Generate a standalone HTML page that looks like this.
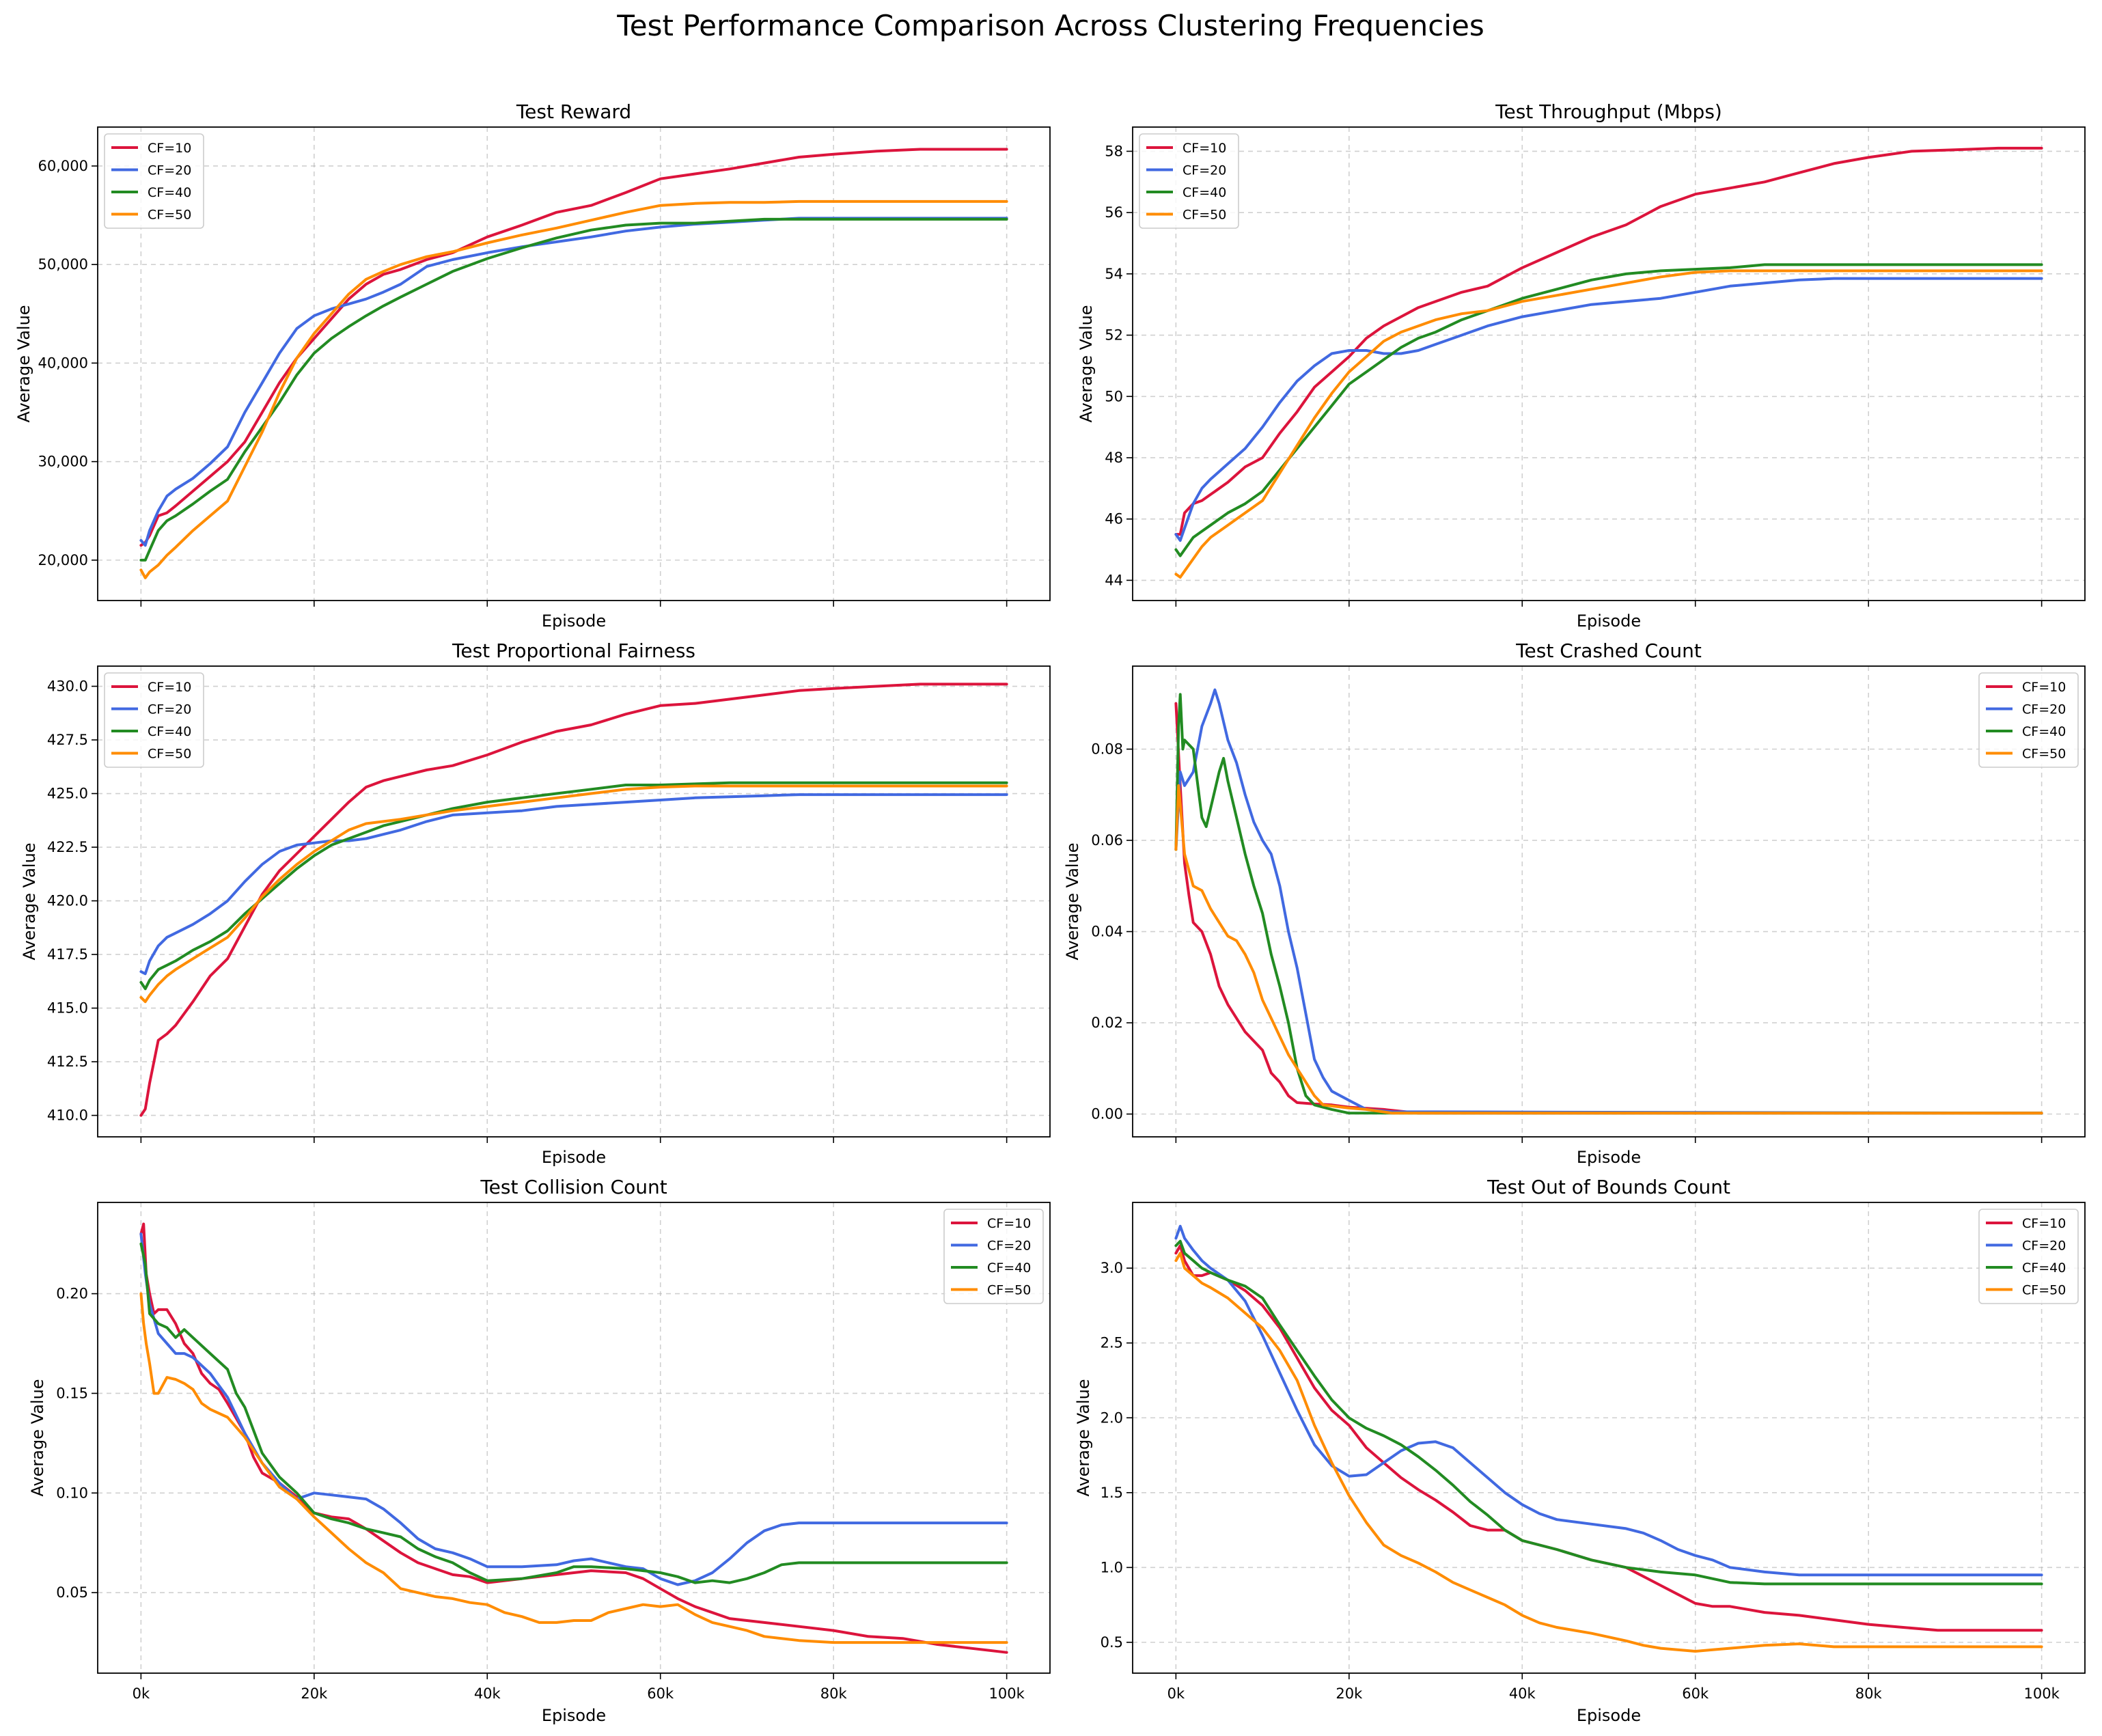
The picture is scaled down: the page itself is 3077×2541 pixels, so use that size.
<!DOCTYPE html>
<html><head><meta charset="utf-8"><style>
html,body{margin:0;padding:0;background:#fff}
svg{display:block;font-family:"DejaVu Sans","Liberation Sans",sans-serif}
</style></head><body>
<svg id="fig" width="3077" height="2541" viewBox="0 0 3077 2541" xmlns="http://www.w3.org/2000/svg">
<rect width="3077" height="2541" fill="#fff"/>
<text x="1538" y="52" font-size="42" text-anchor="middle" fill="#000">Test Performance Comparison Across Clustering Frequencies</text>
</svg>
<script>
// ---- data ----
const seriesNames = ["CF=10","CF=20","CF=40","CF=50"];
const xTickVals = [0,20,40,60,80,100];
const xTickLabels = ["0k","20k","40k","60k","80k","100k"];
const X3 = [0,0.5,1,2,3,4,6,8,10,12,14,16,18,20,22,24,26,28,30,33,36,40,44,48,52,56,60,64,68,72,76,80,85,90,95,100];

const rew10 = [21.5,21.8,22.5,24.5,24.8,25.5,27,28.5,30,32,35,38,40.5,42.5,44.5,46.5,48,49,49.5,50.5,51.2,52.8,54,55.3,56,57.3,58.7,59.2,59.7,60.3,60.9,61.2,61.5,61.7,61.7,61.7];
const rew20 = [22,21.5,23,25,26.5,27.2,28.3,29.8,31.5,35,38,41,43.5,44.8,45.5,46,46.5,47.2,48,49.8,50.5,51.2,51.8,52.3,52.8,53.4,53.8,54.1,54.3,54.5,54.7,54.7,54.7,54.7,54.7,54.7];
const rew40 = [20,20,21,23,24,24.5,25.7,27,28.2,31,33.5,36,38.8,41,42.5,43.7,44.8,45.8,46.7,48,49.3,50.6,51.7,52.7,53.5,54,54.2,54.2,54.4,54.6,54.6,54.6,54.6,54.6,54.6,54.6];
const rew50 = [19,18.2,18.8,19.5,20.5,21.3,23,24.5,26,29.5,33,37,40.5,43,45,47,48.5,49.3,50,50.8,51.3,52.2,53,53.7,54.5,55.3,56,56.2,56.3,56.3,56.4,56.4,56.4,56.4,56.4,56.4];
const rewTicks = [20,30,40,50,60];
const rewTickLabels = ["20,000","30,000","40,000","50,000","60,000"];

const thr10 = [45.5,45.5,46.2,46.5,46.6,46.8,47.2,47.7,48,48.8,49.5,50.3,50.8,51.3,51.9,52.3,52.6,52.9,53.1,53.4,53.6,54.2,54.7,55.2,55.6,56.2,56.6,56.8,57,57.3,57.6,57.8,58,58.05,58.1,58.1];
const thr20 = [45.5,45.3,45.7,46.5,47,47.3,47.8,48.3,49,49.8,50.5,51,51.4,51.5,51.5,51.4,51.4,51.5,51.7,52,52.3,52.6,52.8,53,53.1,53.2,53.4,53.6,53.7,53.8,53.85,53.85,53.85,53.85,53.85,53.85];
const thr40 = [45,44.8,45,45.4,45.6,45.8,46.2,46.5,46.9,47.6,48.3,49,49.7,50.4,50.8,51.2,51.6,51.9,52.1,52.5,52.8,53.2,53.5,53.8,54,54.1,54.15,54.2,54.3,54.3,54.3,54.3,54.3,54.3,54.3,54.3];
const thr50 = [44.2,44.1,44.3,44.7,45.1,45.4,45.8,46.2,46.6,47.5,48.4,49.3,50.1,50.8,51.3,51.8,52.1,52.3,52.5,52.7,52.8,53.1,53.3,53.5,53.7,53.9,54.05,54.1,54.1,54.1,54.1,54.1,54.1,54.1,54.1,54.1];
const thrTicks = [44,46,48,50,52,54,56,58];
const thrTickLabels = ["44","46","48","50","52","54","56","58"];

const fair10 = [410,410.3,411.5,413.5,413.8,414.2,415.3,416.5,417.3,418.8,420.3,421.4,422.2,423,423.8,424.6,425.3,425.6,425.8,426.1,426.3,426.8,427.4,427.9,428.2,428.7,429.1,429.2,429.4,429.6,429.8,429.9,430,430.1,430.1,430.1];
const fair20 = [416.7,416.6,417.2,417.9,418.3,418.5,418.9,419.4,420,420.9,421.7,422.3,422.6,422.7,422.8,422.8,422.9,423.1,423.3,423.7,424,424.1,424.2,424.4,424.5,424.6,424.7,424.8,424.85,424.9,424.95,424.95,424.95,424.95,424.95,424.95];
const fair40 = [416.2,415.9,416.3,416.8,417,417.2,417.7,418.1,418.6,419.4,420.1,420.8,421.5,422.1,422.6,422.9,423.2,423.5,423.7,424,424.3,424.6,424.8,425,425.2,425.4,425.4,425.45,425.5,425.5,425.5,425.5,425.5,425.5,425.5,425.5];
const fair50 = [415.5,415.3,415.6,416.1,416.5,416.8,417.3,417.8,418.3,419.2,420.2,421,421.7,422.3,422.8,423.3,423.6,423.7,423.8,424,424.2,424.4,424.6,424.8,425,425.2,425.3,425.35,425.35,425.35,425.35,425.35,425.35,425.35,425.35,425.35];
const fairTicks = [410,412.5,415,417.5,420,422.5,425,427.5,430];
const fairTickLabels = ["410.0","412.5","415.0","417.5","420.0","422.5","425.0","427.5","430.0"];

const cr10x = [0,0.5,1,1.5,2,3,4,5,6,7,8,9,10,11,12,13,14,16,18,20,24,28,100];
const cr10y = [0.09,0.072,0.055,0.048,0.042,0.04,0.035,0.028,0.024,0.021,0.018,0.016,0.014,0.009,0.007,0.004,0.0025,0.0022,0.002,0.0015,0.001,0.0002,0.0002];
const cr20x = [0,0.5,1,2,3,4,4.5,5,6,7,8,9,10,11,12,13,14,15,16,17,18,20,22,25,100];
const cr20y = [0.058,0.075,0.072,0.075,0.085,0.09,0.093,0.09,0.082,0.077,0.07,0.064,0.06,0.057,0.05,0.04,0.032,0.022,0.012,0.008,0.005,0.003,0.001,0.0005,0.0002];
const cr40x = [0,0.3,0.5,0.8,1,2,3,3.5,4,5,5.5,6,7,8,9,10,11,12,13,14,15,16,18,20,100];
const cr40y = [0.058,0.085,0.092,0.08,0.082,0.08,0.065,0.063,0.067,0.075,0.078,0.073,0.065,0.057,0.05,0.044,0.035,0.028,0.02,0.01,0.004,0.002,0.001,0.0002,0.0002];
const cr50x = [0,0.3,0.5,1,2,3,4,5,6,7,8,9,10,11,12,13,14,15,16,17,20,22,25,100];
const cr50y = [0.058,0.072,0.068,0.057,0.05,0.049,0.045,0.042,0.039,0.038,0.035,0.031,0.025,0.021,0.017,0.013,0.01,0.007,0.004,0.002,0.0013,0.001,0.0002,0.0002];
const crTicks = [0,0.02,0.04,0.06,0.08];
const crTickLabels = ["0.00","0.02","0.04","0.06","0.08"];

const co10x = [0,0.3,0.6,1,1.5,2,3,4,5,6,7,8,9,10,12,13,14,16,18,20,22,24,26,28,30,32,34,36,38,40,44,48,52,56,58,60,62,64,66,68,72,76,80,84,88,92,96,100];
const co10y = [0.23,0.235,0.21,0.2,0.19,0.192,0.192,0.185,0.175,0.17,0.16,0.155,0.152,0.145,0.13,0.118,0.11,0.105,0.098,0.09,0.088,0.087,0.082,0.076,0.07,0.065,0.062,0.059,0.058,0.055,0.057,0.059,0.061,0.06,0.057,0.052,0.047,0.043,0.04,0.037,0.035,0.033,0.031,0.028,0.027,0.024,0.022,0.02];
const co20x = [0,0.5,1,2,3,4,5,6,8,10,12,14,16,18,20,22,24,26,28,30,32,34,36,38,40,44,48,50,52,56,58,60,62,64,66,68,70,72,74,76,80,100];
const co20y = [0.23,0.21,0.195,0.18,0.175,0.17,0.17,0.168,0.16,0.148,0.13,0.115,0.105,0.097,0.1,0.099,0.098,0.097,0.092,0.085,0.077,0.072,0.07,0.067,0.063,0.063,0.064,0.066,0.067,0.063,0.062,0.057,0.054,0.056,0.06,0.067,0.075,0.081,0.084,0.085,0.085,0.085];
const co40x = [0,0.5,1,2,3,4,5,6,8,10,11,12,14,16,18,20,22,24,26,28,30,32,34,36,38,40,44,48,50,52,56,60,62,64,66,68,70,72,74,76,80,100];
const co40y = [0.225,0.215,0.19,0.185,0.183,0.178,0.182,0.178,0.17,0.162,0.15,0.143,0.12,0.108,0.1,0.09,0.087,0.085,0.082,0.08,0.078,0.072,0.068,0.065,0.06,0.056,0.057,0.06,0.063,0.063,0.062,0.06,0.058,0.055,0.056,0.055,0.057,0.06,0.064,0.065,0.065,0.065];
const co50x = [0,0.3,0.6,1,1.5,2,3,4,5,6,7,8,10,12,14,16,18,20,22,24,26,28,30,32,34,36,38,40,42,44,46,48,50,52,54,56,58,60,62,64,66,68,70,72,76,80,100];
const co50y = [0.2,0.185,0.175,0.165,0.15,0.15,0.158,0.157,0.155,0.152,0.145,0.142,0.138,0.128,0.115,0.103,0.097,0.088,0.08,0.072,0.065,0.06,0.052,0.05,0.048,0.047,0.045,0.044,0.04,0.038,0.035,0.035,0.036,0.036,0.04,0.042,0.044,0.043,0.044,0.039,0.035,0.033,0.031,0.028,0.026,0.025,0.025];
const coTicks = [0.05,0.10,0.15,0.20];
const coTickLabels = ["0.05","0.10","0.15","0.20"];

const ob10x = [0,0.5,1,2,3,4,6,8,10,12,14,16,18,20,22,24,26,28,30,32,34,36,38,40,44,48,52,56,58,60,62,64,66,68,72,76,80,84,88,92,96,100];
const ob10y = [3.1,3.15,3.05,2.95,2.95,2.97,2.92,2.85,2.75,2.6,2.4,2.2,2.05,1.95,1.8,1.7,1.6,1.52,1.45,1.37,1.28,1.25,1.25,1.18,1.12,1.05,1.0,0.88,0.82,0.76,0.74,0.74,0.72,0.7,0.68,0.65,0.62,0.6,0.58,0.58,0.58,0.58];
const ob20x = [0,0.5,1,2,3,4,6,8,10,12,14,16,18,20,22,24,26,28,30,32,34,36,38,40,42,44,48,52,54,56,58,60,62,64,68,72,76,80,100];
const ob20y = [3.2,3.28,3.2,3.12,3.05,3.0,2.92,2.78,2.55,2.3,2.05,1.82,1.68,1.61,1.62,1.7,1.78,1.83,1.84,1.8,1.7,1.6,1.5,1.42,1.36,1.32,1.29,1.26,1.23,1.18,1.12,1.08,1.05,1.0,0.97,0.95,0.95,0.95,0.95];
const ob40x = [0,0.5,1,2,3,4,6,8,10,12,14,16,18,20,22,24,26,28,30,32,34,36,38,40,44,48,52,56,60,64,68,72,76,100];
const ob40y = [3.15,3.18,3.1,3.05,3.0,2.97,2.92,2.88,2.8,2.62,2.45,2.28,2.12,2.0,1.93,1.88,1.82,1.74,1.65,1.55,1.44,1.35,1.25,1.18,1.12,1.05,1.0,0.97,0.95,0.9,0.89,0.89,0.89,0.89];
const ob50x = [0,0.5,1,2,3,4,6,8,10,12,14,16,18,20,22,24,26,28,30,32,34,36,38,40,42,44,48,52,54,56,60,62,64,68,72,76,80,100];
const ob50y = [3.05,3.1,3.0,2.95,2.9,2.87,2.8,2.7,2.6,2.45,2.25,1.95,1.7,1.48,1.3,1.15,1.08,1.03,0.97,0.9,0.85,0.8,0.75,0.68,0.63,0.6,0.56,0.51,0.48,0.46,0.44,0.45,0.46,0.48,0.49,0.47,0.47,0.47];
const obTicks = [0.5,1.0,1.5,2.0,2.5,3.0];
const obTickLabels = ["0.5","1.0","1.5","2.0","2.5","3.0"];

// ---- rendering ----
const colors = ["#DC143C","#4169E1","#228B22","#FF8C00"];
const NS = "http://www.w3.org/2000/svg";
const svg = document.getElementById("fig");
function mk(tag, attrs, parent){const e=document.createElementNS(NS,tag);for(const k in attrs)e.setAttribute(k,attrs[k]);(parent||svg).appendChild(e);return e;}

const panels = [
 {key:"reward",title:"Test Reward",L:143,T:186,R:1537,B:879,y0:15.9,y1:63.95,yt:rewTicks,yl:rewTickLabels,s:[[X3,rew10],[X3,rew20],[X3,rew40],[X3,rew50]],leg:"left",xl:false,ylx:35},
 {key:"throughput",title:"Test Throughput (Mbps)",L:1658,T:186,R:3052,B:879,y0:43.34,y1:58.79,yt:thrTicks,yl:thrTickLabels,s:[[X3,thr10],[X3,thr20],[X3,thr40],[X3,thr50]],leg:"left",xl:false,ylx:1590},
 {key:"fairness",title:"Test Proportional Fairness",L:143,T:975,R:1537,B:1664,y0:409,y1:430.94,yt:fairTicks,yl:fairTickLabels,s:[[X3,fair10],[X3,fair20],[X3,fair40],[X3,fair50]],leg:"left",xl:false,ylx:43},
 {key:"crashed",title:"Test Crashed Count",L:1658,T:975,R:3052,B:1664,y0:-0.005,y1:0.0982,yt:crTicks,yl:crTickLabels,s:[[cr10x,cr10y],[cr20x,cr20y],[cr40x,cr40y],[cr50x,cr50y]],leg:"right",xl:false,ylx:1570},
 {key:"collision",title:"Test Collision Count",L:143,T:1760,R:1537,B:2449,y0:0.0096,y1:0.2458,yt:coTicks,yl:coTickLabels,s:[[co10x,co10y],[co20x,co20y],[co40x,co40y],[co50x,co50y]],leg:"right",xl:true,ylx:55},
 {key:"oob",title:"Test Out of Bounds Count",L:1658,T:1760,R:3052,B:2449,y0:0.294,y1:3.439,yt:obTicks,yl:obTickLabels,s:[[ob10x,ob10y],[ob20x,ob20y],[ob40x,ob40y],[ob50x,ob50y]],leg:"right",xl:true,ylx:1586}
];

panels.forEach(p=>{
  const g = mk("g",{});
  
  
  const W=p.R-p.L, H=p.B-p.T;
  const sx = v => p.L + (v+5)/110*W;
  const sy = v => p.B - (v-p.y0)/(p.y1-p.y0)*H;
  // grid
  xTickVals.forEach((v,i)=>{
    const l=mk("line",{x1:sx(v),x2:sx(v),y1:p.T,y2:p.B,stroke:"#b0b0b0","stroke-width":1.6,"stroke-dasharray":"7,6","stroke-opacity":0.6},g);
    
    
    mk("line",{x1:sx(v),x2:sx(v),y1:p.B,y2:p.B+9,stroke:"#000","stroke-width":1.6},g);
    if(p.xl){
      const t=mk("text",{x:sx(v),y:p.B+37,"font-size":21,"text-anchor":"middle",fill:"#000"},g);
      t.textContent=xTickLabels[i];
      
      
    }
  });
  p.yt.forEach((v,i)=>{
    const l=mk("line",{x1:p.L,x2:p.R,y1:sy(v),y2:sy(v),stroke:"#b0b0b0","stroke-width":1.6,"stroke-dasharray":"7,6","stroke-opacity":0.6},g);
    
    
    mk("line",{x1:p.L-9,x2:p.L,y1:sy(v),y2:sy(v),stroke:"#000","stroke-width":1.6},g);
    const t=mk("text",{x:p.L-14,y:sy(v)+7,"font-size":21,"text-anchor":"end",fill:"#000"},g);
    t.textContent=p.yl[i];
    
    
  });
  // series
  p.s.forEach((s,k)=>{
    const pts=s[0].map((x,i)=>sx(x).toFixed(1)+","+sy(s[1][i]).toFixed(1)).join(" ");
    const pl=mk("polyline",{points:pts,fill:"none",stroke:colors[k],"stroke-width":4,"stroke-linejoin":"round","stroke-linecap":"round"},g);
    
    
  });
  // frame
  const fr=mk("rect",{x:p.L,y:p.T,width:W,height:H,fill:"none",stroke:"#000","stroke-width":1.8},g);
  
  
  // title
  const tt=mk("text",{x:(p.L+p.R)/2,y:p.T-13,"font-size":28,"text-anchor":"middle",fill:"#000"},g);
  tt.textContent=p.title;
  
  
  // x label
  const xl=mk("text",{x:(p.L+p.R)/2,y:p.xl?p.B+70:p.B+38,"font-size":24,"text-anchor":"middle",fill:"#000"},g);
  xl.textContent="Episode";
  
  
  // y label
  const cy=(p.T+p.B)/2;
  const yl=mk("text",{x:p.ylx,y:cy,"font-size":24,"text-anchor":"middle",fill:"#000","dominant-baseline":"central",transform:`rotate(-90 ${p.ylx} ${cy})`},g);
  yl.textContent="Average Value";
  
  
  // legend
  const bw=145, bh=138;
  const bx = p.leg==="left" ? p.L+10 : p.R-10-bw;
  const by = p.T+10;
  const lg=mk("g",{},g);
  
  
  mk("rect",{x:bx,y:by,width:bw,height:bh,rx:5,fill:"#fff","fill-opacity":0.8,stroke:"#ccc","stroke-width":1.6},lg);
  seriesNames.forEach((n,k)=>{
    const yy=by+20+k*32.5;
    const e=mk("g",{},lg);
    
    
    mk("line",{x1:bx+10,x2:bx+49,y1:yy,y2:yy,stroke:colors[k],"stroke-width":4},e);
    const t=mk("text",{x:bx+63,y:yy+7,"font-size":19,fill:"#000"},e);
    t.textContent=n;
  });
});
</script>
</body></html>
